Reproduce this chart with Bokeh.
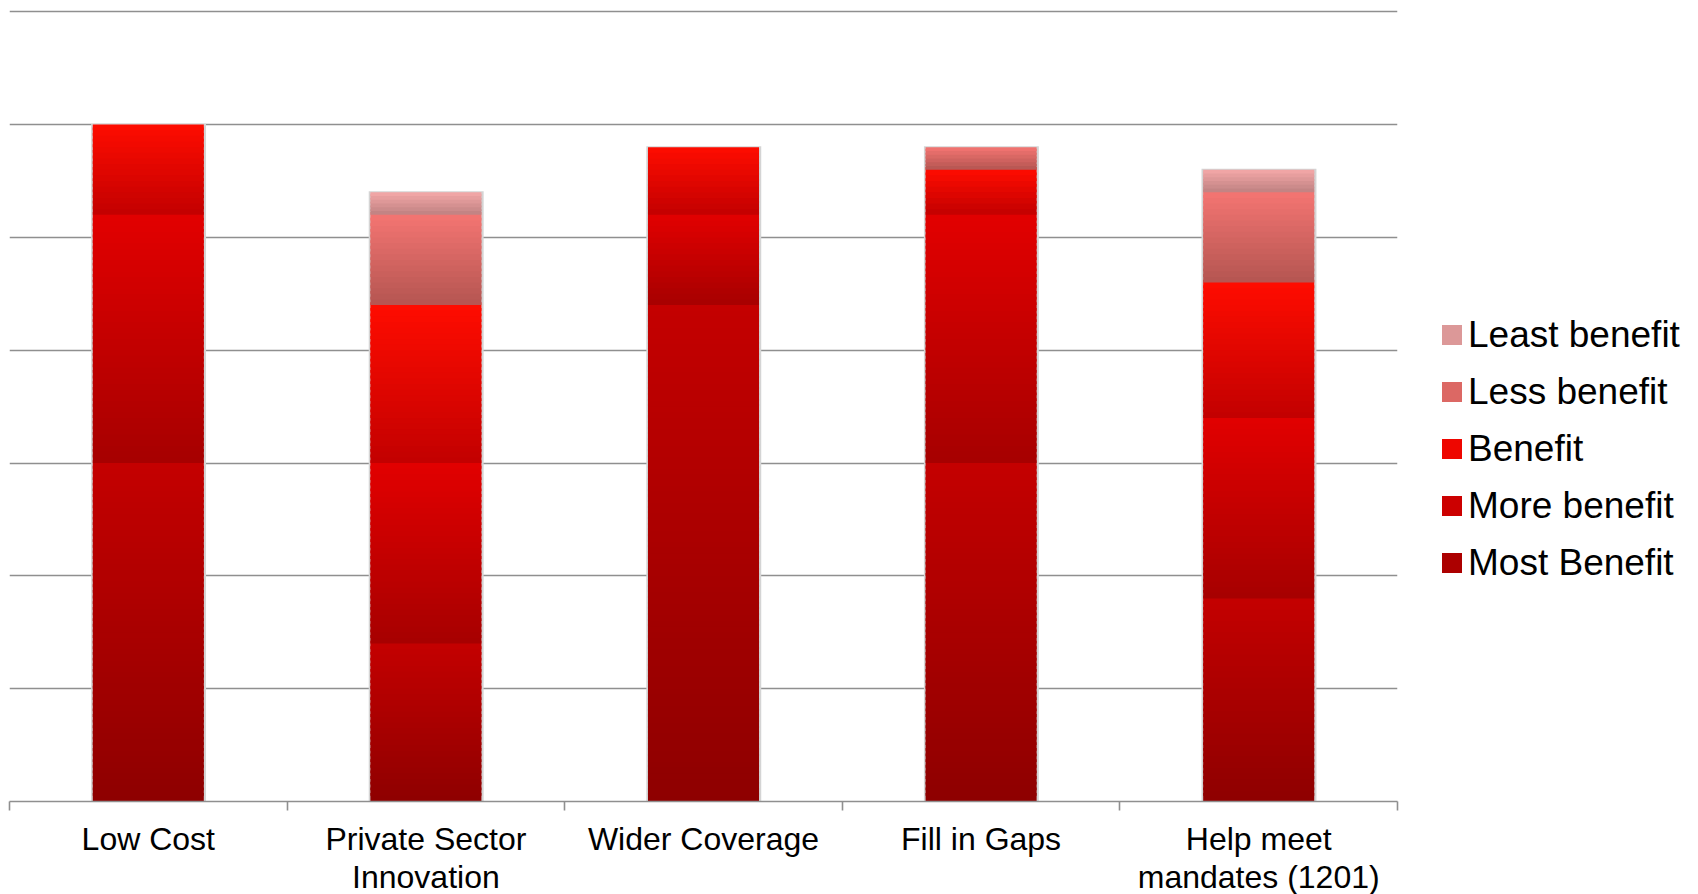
from bokeh.plotting import figure
from bokeh.layouts import row
from bokeh.models import ColumnDataSource, FixedTicker, Legend, LegendItem, Range1d
from bokeh.embed import file_html
from bokeh.resources import INLINE

# ---- data ----
categories = ["Low Cost", "Private Sector\nInnovation", "Wider Coverage",
              "Fill in Gaps", "Help meet\nmandates (1201)"]
most_benefit = [15, 7, 22, 15, 9]
more_benefit = [11, 8, 4, 11, 8]
benefit = [4, 7, 3, 2, 6]
less_benefit = [0, 4, 0, 1, 4]
least_benefit = [0, 1, 0, 0, 1]

series_names = ["Most Benefit", "More benefit", "Benefit", "Less benefit", "Least benefit"]
series_values = [most_benefit, more_benefit, benefit, less_benefit, least_benefit]
# (top colour, bottom colour) of each gradient
series_colors = [("#c40000", "#8e0000"),
                 ("#e20000", "#a60000"),
                 ("#ff0c00", "#c20000"),
                 ("#f47572", "#b45551"),
                 ("#f4a8a8", "#bf8181")]
legend_colors = ["#ac0000", "#cc0000", "#ee0600", "#dc6864", "#dc9898"]

FONT = "Liberation Sans"


def hex2rgb(h):
    h = h.lstrip("#")
    return tuple(int(h[i:i + 2], 16) for i in (0, 2, 4))


def mix(c_bottom, c_top, t):
    a, b = hex2rgb(c_bottom), hex2rgb(c_top)
    return "#%02x%02x%02x" % tuple(int(round(a[i] + (b[i] - a[i]) * t)) for i in range(3))


p = figure(width=1402, height=894, x_range=Range1d(0, 5), y_range=Range1d(0, 35.1),
           output_backend="svg", toolbar_location=None,
           frame_width=1388, frame_height=792,
           min_border_left=9, min_border_right=5, min_border_top=9, min_border_bottom=80)
p.outline_line_color = None
p.background_fill_color = "white"
p.border_fill_color = "white"

bar_w = 0.4
centers = [i + 0.5 for i in range(len(categories))]
totals = [sum(s[i] for s in series_values) for i in range(len(categories))]

# soft shadow behind bars
p.quad(left=[c - bar_w / 2 - 0.006 for c in centers], right=[c + bar_w / 2 + 0.008 for c in centers],
       top=[t + 0.04 for t in totals], bottom=[0] * len(centers),
       fill_color="#d4d4d4", line_color=None)

bottoms = [0.0] * len(categories)
for name, vals, (ctop, cbot) in zip(series_names, series_values, series_colors):
    left, right, top, bottom, color = [], [], [], [], []
    for i, v in enumerate(vals):
        if v <= 0:
            continue
        n = max(6, int(v * 4))
        b0 = bottoms[i]
        for k in range(n):
            y0 = b0 + v * k / n
            y1 = b0 + v * (k + 1) / n
            if b0 + v < totals[i] or k < n - 1:
                y1 += 0.5 * v / n
            left.append(centers[i] - bar_w / 2)
            right.append(centers[i] + bar_w / 2)
            bottom.append(y0)
            top.append(y1)
            color.append(mix(cbot, ctop, (k + 0.5) / n))
        bottoms[i] += v
    src = ColumnDataSource(dict(left=left, right=right, top=top, bottom=bottom, color=color))
    p.quad(left="left", right="right", top="top", bottom="bottom", source=src,
           fill_color="color", line_color=None)

# axes / grid
p.yaxis.visible = False
p.xgrid.visible = False
p.ygrid.ticker = FixedTicker(ticks=[5, 10, 15, 20, 25, 30, 35])
p.ygrid.grid_line_color = "#8f8f8f"
p.ygrid.grid_line_width = 1.6

xa = p.xaxis[0]
xa.ticker = FixedTicker(ticks=centers, minor_ticks=[0, 1, 2, 3, 4, 5])
xa.major_label_overrides = {c: lab for c, lab in zip(centers, categories)}
xa.major_tick_line_color = None
xa.major_tick_out = 0
xa.major_tick_in = 0
xa.minor_tick_line_color = "#8f8f8f"
xa.minor_tick_line_width = 1.6
xa.minor_tick_in = 0
xa.minor_tick_out = 9
xa.axis_line_color = "#8f8f8f"
xa.axis_line_width = 1.6
xa.major_label_text_font = FONT
xa.major_label_text_font_size = "32px"
xa.major_label_text_color = "#000000"
xa.major_label_text_line_height = 1.06
xa.major_label_standoff = 10

# ---- legend panel ----
lp = figure(width=296, height=894, x_range=Range1d(0, 1), y_range=Range1d(0, 1),
            output_backend="svg", toolbar_location=None,
            min_border=0)
lp.axis.visible = False
lp.grid.visible = False
lp.outline_line_color = None
lp.border_fill_color = "white"

items = []
for name, col in reversed(list(zip(series_names, legend_colors))):
    # swatch renderer kept outside the visible range; only its legend glyph shows
    r = lp.quad(left=[5], right=[6], top=[6], bottom=[5], fill_color=col, line_color=None)
    items.append(LegendItem(label=name, renderers=[r]))

legend = Legend(items=items, location=(27, 197), orientation="vertical",
                label_text_font=FONT, label_text_font_size="37px", label_text_color="#000000",
                glyph_width=25, glyph_height=25, label_standoff=4, spacing=0,
                label_height=57, padding=10, margin=0,
                border_line_alpha=0, background_fill_alpha=0)
lp.add_layout(legend, "center")

layout = row(p, lp, spacing=0)
open("out.html", "w").write(file_html(layout, INLINE))
